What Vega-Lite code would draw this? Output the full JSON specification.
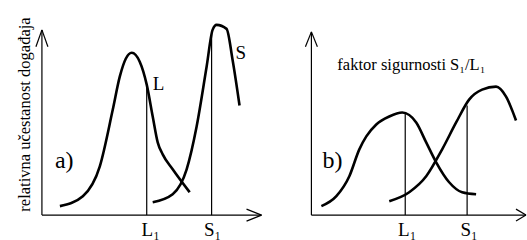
{
  "$schema": "https://vega.github.io/schema/vega-lite/v6.json",
  "width": 527,
  "height": 240,
  "autosize": {"type": "fit", "contains": "padding"},
  "padding": 0,
  "background": "white",
  "config": {"view": {"stroke": null}, "text": {"font": "Liberation Serif", "color": "black"}},
  "datasets": {
    "curves": [
      {"c": "aL", "x": 60, "y": 9}, {"c": "aL", "x": 83, "y": 19}, {"c": "aL", "x": 100, "y": 49},
      {"c": "aL", "x": 113, "y": 106}, {"c": "aL", "x": 120, "y": 139}, {"c": "aL", "x": 126, "y": 157},
      {"c": "aL", "x": 132, "y": 163}, {"c": "aL", "x": 140, "y": 154}, {"c": "aL", "x": 147, "y": 131},
      {"c": "aL", "x": 153, "y": 99}, {"c": "aL", "x": 158, "y": 73}, {"c": "aL", "x": 163, "y": 61},
      {"c": "aL", "x": 173, "y": 46}, {"c": "aL", "x": 190, "y": 23},
      {"c": "aS", "x": 153, "y": 13}, {"c": "aS", "x": 173, "y": 21}, {"c": "aS", "x": 187, "y": 46},
      {"c": "aS", "x": 197, "y": 89}, {"c": "aS", "x": 207, "y": 149}, {"c": "aS", "x": 213, "y": 186},
      {"c": "aS", "x": 217, "y": 191}, {"c": "aS", "x": 227, "y": 187}, {"c": "aS", "x": 233, "y": 156},
      {"c": "aS", "x": 240, "y": 110},
      {"c": "bL", "x": 322, "y": 9}, {"c": "bL", "x": 337, "y": 19}, {"c": "bL", "x": 350, "y": 39},
      {"c": "bL", "x": 360, "y": 66}, {"c": "bL", "x": 367, "y": 79}, {"c": "bL", "x": 377, "y": 91},
      {"c": "bL", "x": 390, "y": 99}, {"c": "bL", "x": 403, "y": 103}, {"c": "bL", "x": 417, "y": 93},
      {"c": "bL", "x": 427, "y": 73}, {"c": "bL", "x": 437, "y": 53}, {"c": "bL", "x": 450, "y": 33},
      {"c": "bL", "x": 463, "y": 23}, {"c": "bL", "x": 477, "y": 21},
      {"c": "bS", "x": 390, "y": 14}, {"c": "bS", "x": 410, "y": 23}, {"c": "bS", "x": 427, "y": 39},
      {"c": "bS", "x": 443, "y": 66}, {"c": "bS", "x": 457, "y": 93}, {"c": "bS", "x": 470, "y": 116},
      {"c": "bS", "x": 483, "y": 126}, {"c": "bS", "x": 497, "y": 129}, {"c": "bS", "x": 507, "y": 119},
      {"c": "bS", "x": 517, "y": 95}
    ],
    "segs": [
      {"x": 42, "y": 0, "x2": 42, "y2": 186},
      {"x": 42, "y": 186, "x2": 36, "y2": 169},
      {"x": 42, "y": 186, "x2": 48, "y2": 169},
      {"x": 42, "y": 0, "x2": 262, "y2": 0},
      {"x": 262, "y": 0, "x2": 247, "y2": 6},
      {"x": 262, "y": 0, "x2": 247, "y2": -6},
      {"x": 147, "y": 0, "x2": 147, "y2": 131},
      {"x": 212, "y": 0, "x2": 212, "y2": 183},
      {"x": 312, "y": 0, "x2": 312, "y2": 184},
      {"x": 312, "y": 184, "x2": 306, "y2": 169},
      {"x": 312, "y": 184, "x2": 318, "y2": 169},
      {"x": 312, "y": 0, "x2": 527, "y2": 0},
      {"x": 527, "y": 0, "x2": 517, "y2": 6},
      {"x": 527, "y": 0, "x2": 517, "y2": -6},
      {"x": 406, "y": 0, "x2": 406, "y2": 103},
      {"x": 468, "y": 0, "x2": 468, "y2": 110}
    ],
    "curveLabels": [
      {"t": "L", "x": 153, "y": 132},
      {"t": "S", "x": 236, "y": 163}
    ],
    "panelLabels": [
      {"t": "a)", "x": 55, "y": 54},
      {"t": "b)", "x": 323, "y": 54}
    ],
    "ticks": [
      {"t": "L₁", "x": 151, "y": -15},
      {"t": "S₁", "x": 213, "y": -15},
      {"t": "L₁", "x": 408, "y": -15},
      {"t": "S₁", "x": 470, "y": -15}
    ],
    "note": [
      {"t": "faktor sigurnosti S₁/L₁", "x": 338, "y": 151}
    ],
    "title": [
      {"t": "relativna učestanost događaja", "x": 25, "y": 101}
    ]
  },
  "encoding": {
    "x": {"field": "x", "type": "quantitative", "scale": {"domain": [0, 527], "nice": false, "zero": false}, "axis": null},
    "y": {"field": "y", "type": "quantitative", "scale": {"domain": [-24, 216], "nice": false, "zero": false}, "axis": null}
  },
  "layer": [
    {
      "data": {"name": "segs"},
      "mark": {"type": "rule", "color": "black", "strokeWidth": 1.2},
      "encoding": {
        "x2": {"field": "x2"},
        "y2": {"field": "y2"}
      }
    },
    {
      "data": {"name": "curves"},
      "mark": {"type": "line", "color": "black", "strokeWidth": 2.6, "interpolate": "monotone"},
      "encoding": {
        "detail": {"field": "c", "type": "nominal"}
      }
    },
    {
      "data": {"name": "curveLabels"},
      "mark": {"type": "text", "font": "Liberation Serif", "fontSize": 19, "align": "left", "baseline": "middle"},
      "encoding": {"text": {"field": "t"}}
    },
    {
      "data": {"name": "panelLabels"},
      "mark": {"type": "text", "font": "Liberation Serif", "fontSize": 24, "align": "left", "baseline": "middle"},
      "encoding": {"text": {"field": "t"}}
    },
    {
      "data": {"name": "ticks"},
      "mark": {"type": "text", "font": "Liberation Serif", "fontSize": 19, "align": "center", "baseline": "middle"},
      "encoding": {"text": {"field": "t"}}
    },
    {
      "data": {"name": "note"},
      "mark": {"type": "text", "font": "Liberation Serif", "fontSize": 16.5, "align": "left", "baseline": "middle"},
      "encoding": {"text": {"field": "t"}}
    },
    {
      "data": {"name": "title"},
      "mark": {"type": "text", "font": "Liberation Serif", "fontSize": 16.5, "baseline": "middle", "align": "center", "angle": 270},
      "encoding": {"text": {"field": "t"}}
    }
  ]
}
